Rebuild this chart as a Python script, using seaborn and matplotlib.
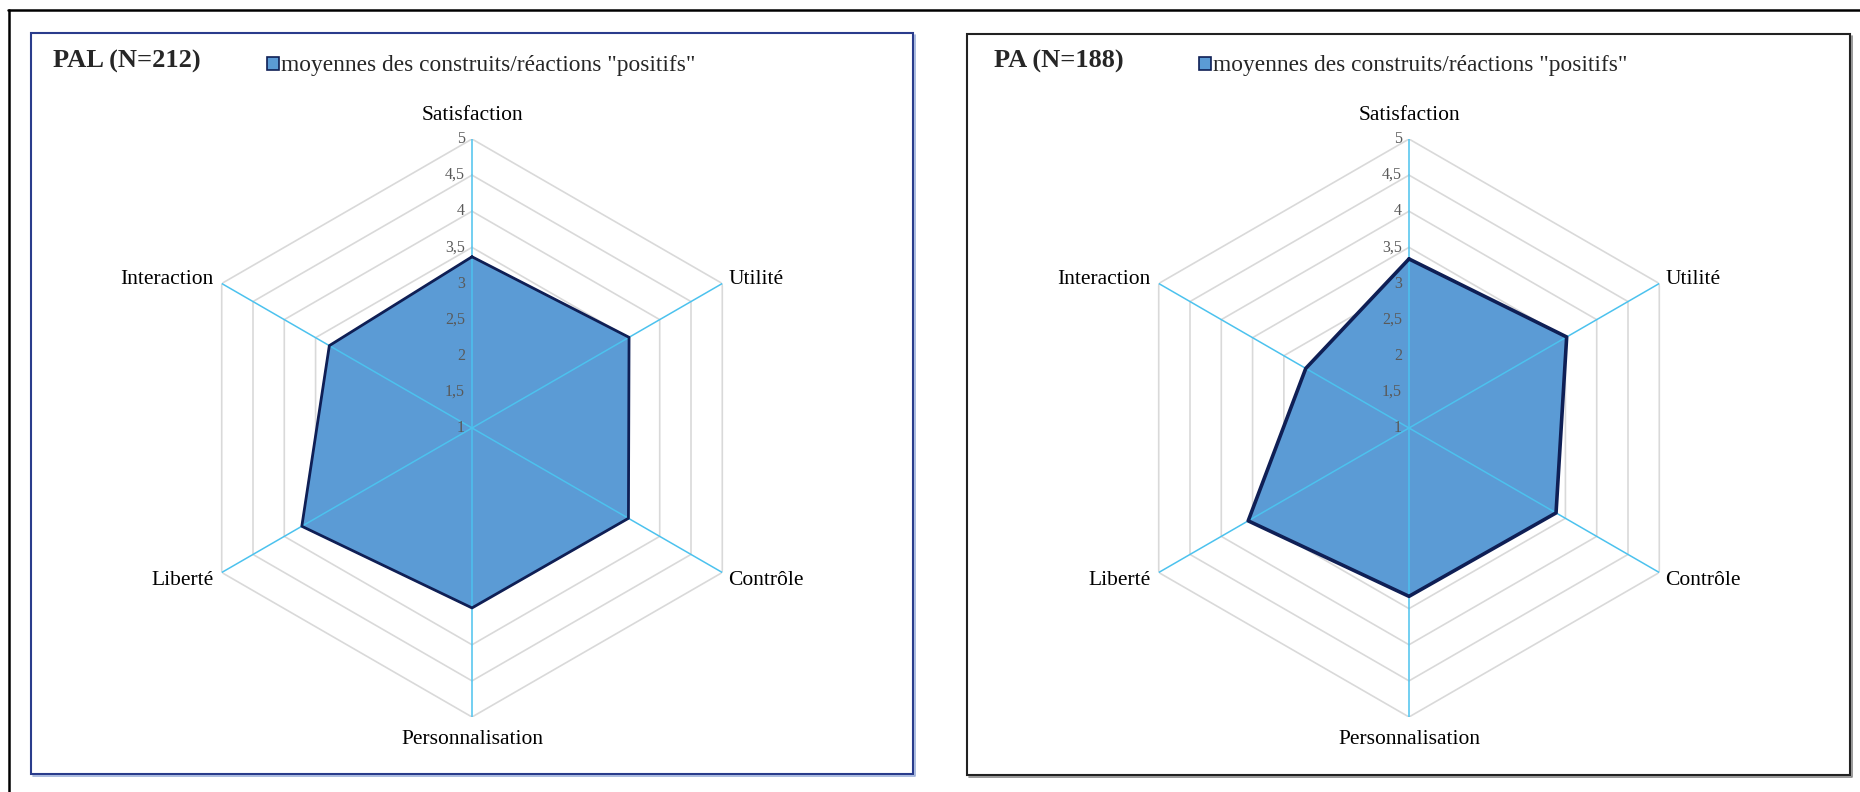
import numpy as np
import matplotlib
matplotlib.use("Agg")
import matplotlib.pyplot as plt
import matplotlib.transforms as mtransforms
from matplotlib.patches import Rectangle, Patch
from matplotlib.lines import Line2D
import seaborn as sns

categories = ['Satisfaction', 'Utilité', 'Contrôle', 'Personnalisation', 'Liberté', 'Interaction']
pal_values = [3.37, 3.51, 3.50, 3.49, 3.72, 3.28]
pa_values = [3.34, 3.52, 3.35, 3.33, 3.57, 2.65]
r_ticks = [1, 1.5, 2, 2.5, 3, 3.5, 4, 4.5, 5]
legend_label = 'moyennes des construits/réactions "positifs"'

FILL = '#5B9BD5'
EDGE = '#0F1F55'
RING = '#D9D9D9'
SPOKE = '#4CC2EE'
TICK = '#595959'

W, H = 1860, 792

# label offsets in pixels (dx, dy, ha)
label_pos = [(0, 24, 'center'), (6, 4, 'left'), (6, -8, 'left'),
             (0, -23, 'center'), (-8, -8, 'right'), (-8, 4, 'right')]


def radar(fig, rect, values, edge_lw):
    ax = fig.add_axes(rect, projection='polar')
    ax.set_theta_offset(np.pi / 2)
    ax.set_theta_direction(-1)
    ax.set_ylim(1, 5)
    ax.set_axis_off()

    angles = np.linspace(0, 2 * np.pi, len(categories), endpoint=False)
    closed = np.append(angles, angles[0])

    for r in r_ticks[1:]:
        ax.plot(closed, [r] * len(closed), color=RING, lw=1.2, zorder=1)

    vals = values + values[:1]
    ax.fill(closed, vals, color=FILL, zorder=2)

    for a in angles:
        ax.plot([a, a], [1, 5], color=SPOKE, lw=1.1, zorder=3)

    ax.plot(closed, vals, color=EDGE, lw=edge_lw, zorder=4)

    # radial tick labels, left of the top spoke
    off = mtransforms.offset_copy(ax.transData, fig=fig, x=-7, y=0, units='dots')
    for r in r_ticks:
        ax.text(0, r, f"{r:g}".replace('.', ','), transform=off, ha='right', va='center',
                fontsize=11.5, color=TICK, zorder=5)

    for a, name, (dx, dy, ha) in zip(angles, categories, label_pos):
        t = mtransforms.offset_copy(ax.transData, fig=fig, x=dx, y=dy, units='dots')
        ax.text(a, 5, name, transform=t, ha=ha, va='center', fontsize=15.5, color='black')
    return ax


def px(x, y, w, h):
    return [x / W, 1 - (y + h) / H, w / W, h / H]


def panel_box(fig, x0, y0, x1, y1, color, shadow):
    fig.add_artist(Line2D([(x0 + 2) / W, (x1 + 2) / W, (x1 + 2) / W],
                          [1 - (y1 + 1.5) / H, 1 - (y1 + 1.5) / H, 1 - (y0 + 2) / H],
                          color=shadow, lw=1.2, transform=fig.transFigure))
    fig.add_artist(Rectangle((x0 / W, 1 - y1 / H), (x1 - x0) / W, (y1 - y0) / H, fill=False,
                             edgecolor=color, lw=1.5, transform=fig.transFigure))


def main():
    sns.set_theme(style='white')
    plt.rcParams['font.family'] = ['Liberation Serif', 'DejaVu Serif']

    fig = plt.figure(figsize=(18.6, 7.92), dpi=100)
    fig.patch.set_facecolor('white')

    # outer frame
    fig.add_artist(Line2D([8 / W, 1], [1 - 10 / H] * 2, color='black', lw=1.8,
                          transform=fig.transFigure))
    fig.add_artist(Line2D([9 / W] * 2, [0, 1 - 10 / H], color='black', lw=1.8,
                          transform=fig.transFigure))

    panel_box(fig, 31, 33, 913, 774, '#2A3C8C', '#9DB0DA')
    panel_box(fig, 967, 34, 1850, 775, '#222222', '#888888')

    radar(fig, px(183, 139, 578, 578), pal_values, 2.0)
    radar(fig, px(1120, 139, 578, 578), pa_values, 2.6)

    panels = [('PAL (N=212)', 53, 267), ('PA (N=188)', 994, 1199)]
    for title, tx, lx in panels:
        fig.text(tx / W, 1 - 61 / H, title, fontsize=19, fontweight='bold',
                 ha='left', va='center')
        handle = Patch(facecolor=FILL, edgecolor=EDGE, lw=1.2)
        fig.legend(handles=[handle], labels=[legend_label], loc='center left',
                   bbox_to_anchor=(lx / W, 1 - 66 / H), frameon=False, fontsize=16.8,
                   handlelength=0.5, handleheight=0.5, handletextpad=0.12, borderpad=0,
                   borderaxespad=0)

    fig.savefig('out.png', dpi=100, facecolor='white')


if __name__ == "__main__":
    main()
